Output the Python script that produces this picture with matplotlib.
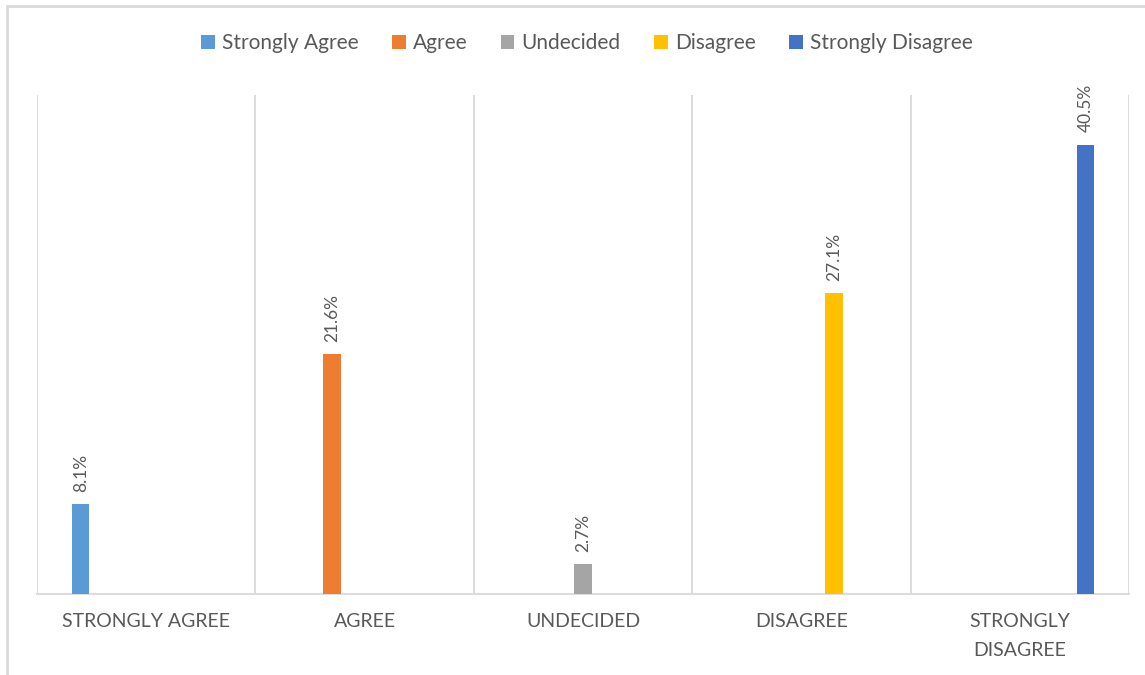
import matplotlib.pyplot as plt
from matplotlib.patches import Rectangle, Patch

plt.rcParams['font.family'] = ['Lato', 'DejaVu Sans']

categories = ['STRONGLY AGREE', 'AGREE', 'UNDECIDED', 'DISAGREE', 'STRONGLY\nDISAGREE']
series = ['Strongly Agree', 'Agree', 'Undecided', 'Disagree', 'Strongly Disagree']
values = [8.1, 21.6, 2.7, 27.1, 40.5]  # percent, one per series
colors = ['#5B9BD5', '#ED7D31', '#A5A5A5', '#FFC000', '#4472C4']

text_col = '#595959'
grid_col = '#D9D9D9'

fig = plt.figure(figsize=(11.45, 6.75), dpi=100)
ax = fig.add_axes([37/1145, 81/675, (1129-37)/1145, (594-95)/675])

# clustered layout: each series sits in its own slot inside every category
step = 0.15
width = 0.08
for i, (name, v, c) in enumerate(zip(series, values, colors)):
    x = i + (i - 2) * step
    ax.bar(x, v, width=width, color=c, label=name, zorder=3)
    ax.annotate(f'{v}%', (x, v), xytext=(0, 9), textcoords='offset points',
                rotation=90, ha='center', va='bottom', fontsize=12.5, color=text_col)

ax.set_xlim(-0.5, len(categories) - 0.5)
ax.set_ylim(0, 45)
ax.set_yticks([])
ax.set_xticks(range(len(categories)))
ax.set_xticklabels(categories, fontsize=14, color=text_col, linespacing=1.8)
ax.tick_params(axis='x', length=0, pad=14)

for xb in [k - 0.5 for k in range(len(categories) + 1)]:
    ax.axvline(xb, color=grid_col, lw=1.3, zorder=1)

for s in ['top', 'right', 'left']:
    ax.spines[s].set_visible(False)
ax.spines['bottom'].set_color(grid_col)
ax.spines['bottom'].set_linewidth(1.3)

handles = [Patch(facecolor=c, label=n) for n, c in zip(series, colors)]
fig.legend(handles=handles, loc='center', bbox_to_anchor=(587/1145, 1 - 43/675),
           ncol=5, frameon=False, fontsize=15, labelcolor=text_col,
           handlelength=0.65, handleheight=0.65, handletextpad=0.35, columnspacing=1.6)

# chart border
fig.patches.append(Rectangle((6.5/1145, -0.05), 1.1, 1 - 6/675 + 0.05,
                             transform=fig.transFigure, fill=False,
                             edgecolor=grid_col, lw=2))

fig.savefig('out.png', dpi=100)
